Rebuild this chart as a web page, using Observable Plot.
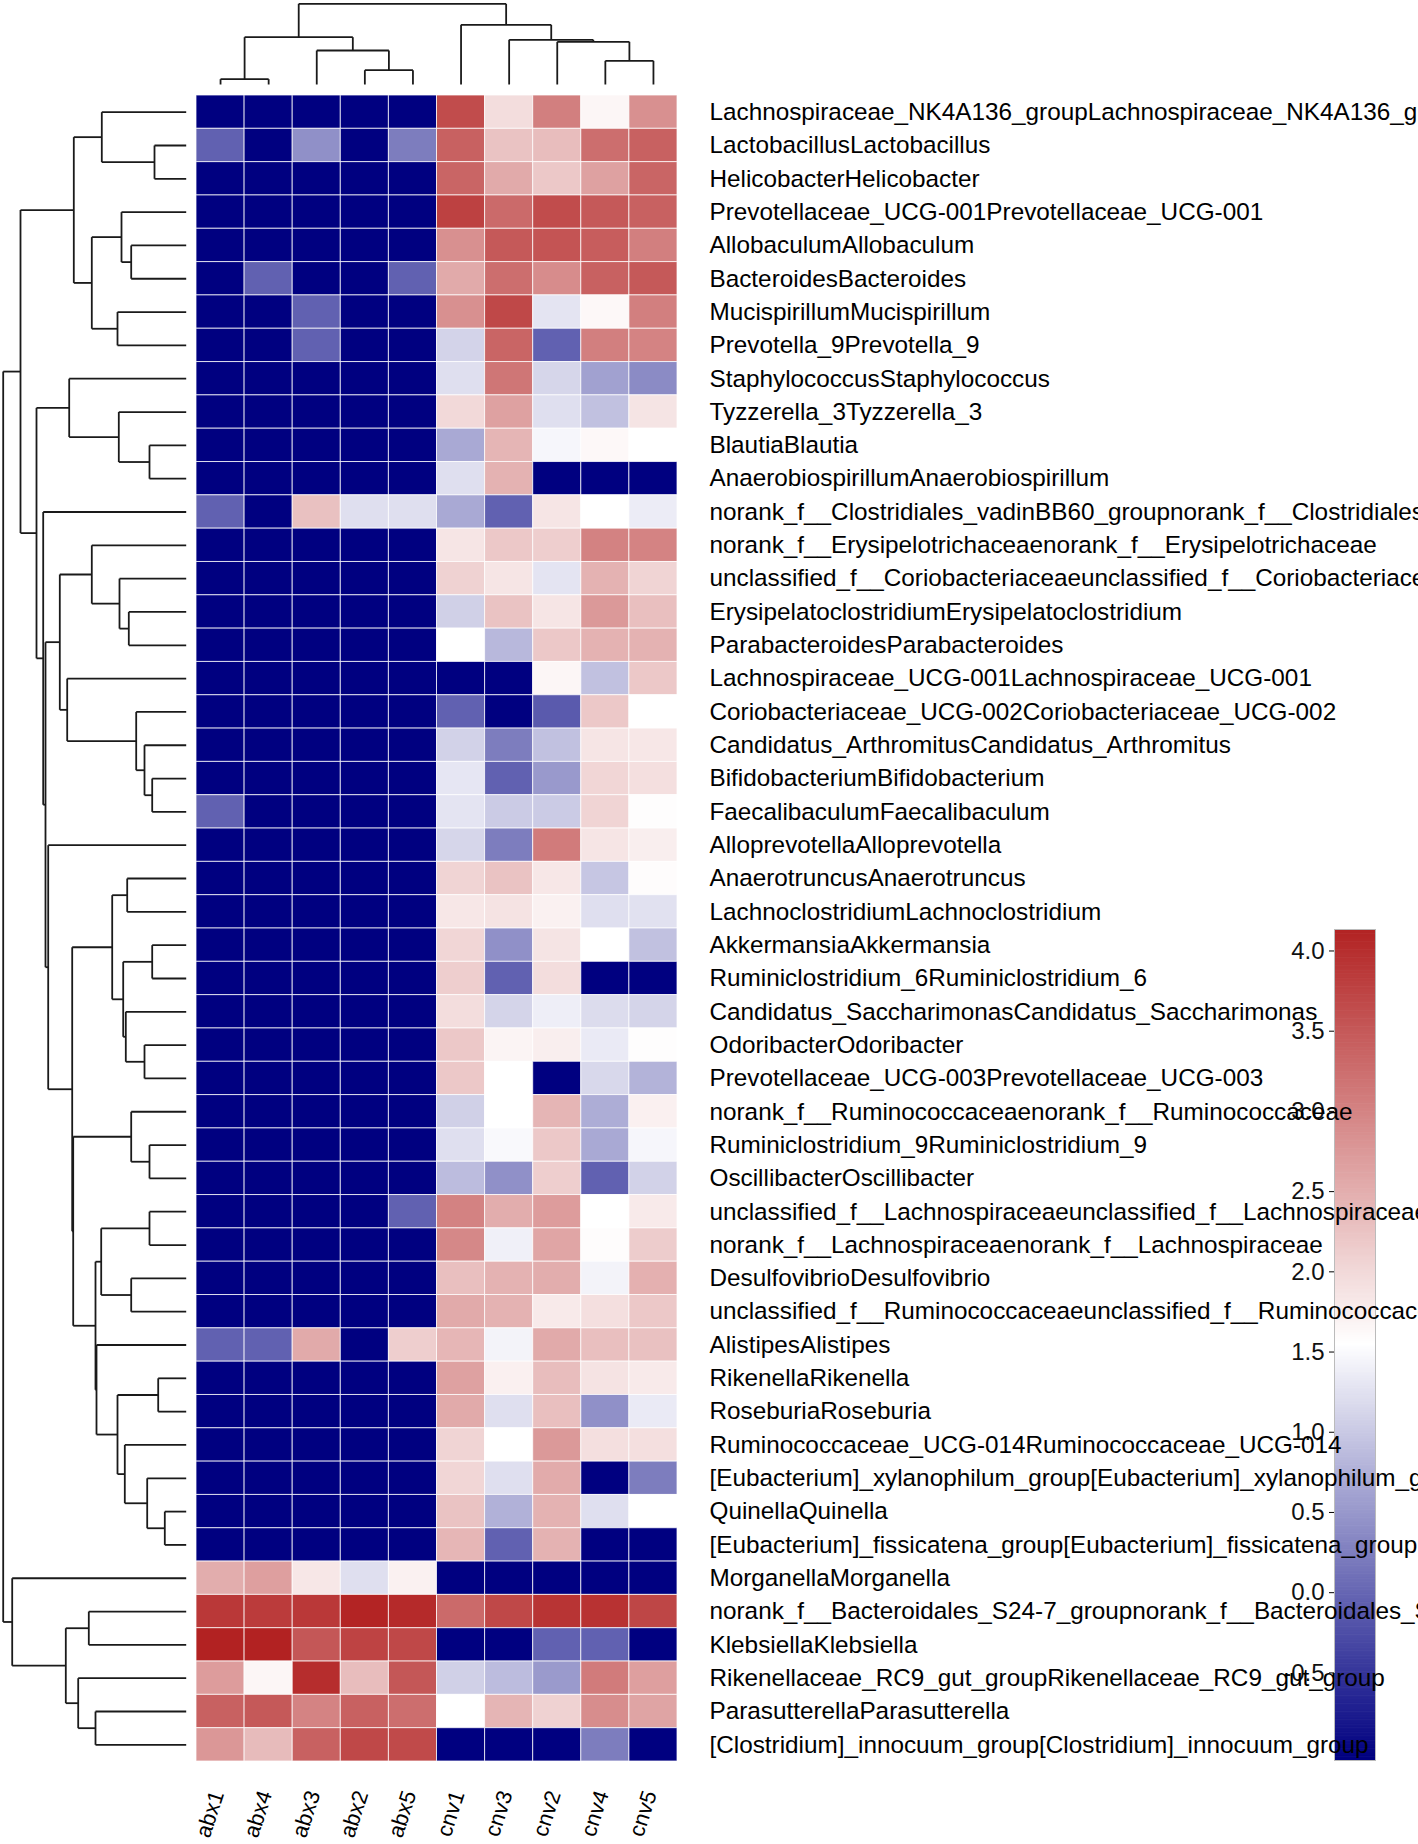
<!DOCTYPE html>
<html><head><meta charset="utf-8">
<script src="https://cdn.jsdelivr.net/npm/d3@7"></script>
<script src="https://cdn.jsdelivr.net/npm/@observablehq/plot@0.6"></script>
<style>
html,body{margin:0;padding:0;background:#fff;overflow:hidden;}
#chart{position:relative;width:1418px;height:1844px;overflow:hidden;background:#fff;}
#chart svg{position:absolute;left:0;top:0;background:transparent;}
</style></head><body><div id="chart"></div>
<script>
const samples = ["abx1","abx4","abx3","abx2","abx5","cnv1","cnv3","cnv2","cnv4","cnv5"];
const genera = ["Lachnospiraceae_NK4A136_group","Lactobacillus","Helicobacter","Prevotellaceae_UCG-001","Allobaculum","Bacteroides","Mucispirillum","Prevotella_9","Staphylococcus","Tyzzerella_3","Blautia","Anaerobiospirillum","norank_f__Clostridiales_vadinBB60_group","norank_f__Erysipelotrichaceae","unclassified_f__Coriobacteriaceae","Erysipelatoclostridium","Parabacteroides","Lachnospiraceae_UCG-001","Coriobacteriaceae_UCG-002","Candidatus_Arthromitus","Bifidobacterium","Faecalibaculum","Alloprevotella","Anaerotruncus","Lachnoclostridium","Akkermansia","Ruminiclostridium_6","Candidatus_Saccharimonas","Odoribacter","Prevotellaceae_UCG-003","norank_f__Ruminococcaceae","Ruminiclostridium_9","Oscillibacter","unclassified_f__Lachnospiraceae","norank_f__Lachnospiraceae","Desulfovibrio","unclassified_f__Ruminococcaceae","Alistipes","Rikenella","Roseburia","Ruminococcaceae_UCG-014","[Eubacterium]_xylanophilum_group","Quinella","[Eubacterium]_fissicatena_group","Morganella","norank_f__Bacteroidales_S24-7_group","Klebsiella","Rikenellaceae_RC9_gut_group","Parasutterella","[Clostridium]_innocuum_group"];
// rows follow genera; columns follow samples
const values = [
[-0.99,-0.99,-0.99,-0.99,-0.99,3.7,2.0,3.1,1.7,2.9],
[0.0,-0.99,0.47,-0.99,0.28,3.45,2.3,2.37,3.3,3.45],
[-0.99,-0.99,-0.99,-0.99,-0.99,3.4,2.6,2.25,2.7,3.4],
[-0.99,-0.99,-0.99,-0.99,-0.99,3.83,3.35,3.7,3.55,3.45],
[-0.99,-0.99,-0.99,-0.99,-0.99,2.9,3.55,3.6,3.5,3.1],
[-0.99,0.0,-0.99,-0.99,0.0,2.6,3.3,2.95,3.45,3.55],
[-0.99,-0.99,0.0,-0.99,-0.99,2.9,3.75,1.33,1.68,3.1],
[-0.99,-0.99,0.0,-0.99,-0.99,1.15,3.4,0.0,3.1,3.05],
[-0.99,-0.99,-0.99,-0.99,-0.99,1.27,3.2,1.18,0.65,0.42],
[-0.99,-0.99,-0.99,-0.99,-0.99,2.05,2.7,1.27,0.97,1.92],
[-0.99,-0.99,-0.99,-0.99,-0.99,0.73,2.47,1.51,1.68,1.6],
[-0.99,-0.99,-0.99,-0.99,-0.99,1.27,2.5,-0.99,-0.99,-0.99],
[0.0,-0.99,2.33,1.27,1.27,0.73,0.0,1.9,1.6,1.41],
[-0.99,-0.99,-0.99,-0.99,-0.99,1.9,2.25,2.17,3.07,3.05],
[-0.99,-0.99,-0.99,-0.99,-0.99,2.13,1.9,1.33,2.5,2.1],
[-0.99,-0.99,-0.99,-0.99,-0.99,1.12,2.3,1.9,2.8,2.35],
[-0.99,-0.99,-0.99,-0.99,-0.99,1.6,0.88,2.25,2.5,2.5],
[-0.99,-0.99,-0.99,-0.99,-0.99,-0.99,-0.99,1.7,0.97,2.25],
[-0.99,-0.99,-0.99,-0.99,-0.99,0.0,-0.99,-0.08,2.25,1.6],
[-0.99,-0.99,-0.99,-0.99,-0.99,1.14,0.28,0.97,1.9,1.88],
[-0.99,-0.99,-0.99,-0.99,-0.99,1.35,0.0,0.56,2.08,1.98],
[0.0,-0.99,-0.99,-0.99,-0.99,1.33,1.07,1.07,2.1,1.62],
[-0.99,-0.99,-0.99,-0.99,-0.99,1.18,0.28,3.15,1.9,1.8],
[-0.99,-0.99,-0.99,-0.99,-0.99,2.1,2.3,1.88,1.02,1.64],
[-0.99,-0.99,-0.99,-0.99,-0.99,1.88,1.93,1.76,1.27,1.3],
[-0.99,-0.99,-0.99,-0.99,-0.99,2.08,0.47,1.92,1.6,0.97],
[-0.99,-0.99,-0.99,-0.99,-0.99,2.17,0.0,2.0,-0.99,-0.99],
[-0.99,-0.99,-0.99,-0.99,-0.99,2.0,1.16,1.43,1.24,1.16],
[-0.99,-0.99,-0.99,-0.99,-0.99,2.25,1.73,1.8,1.39,1.62],
[-0.99,-0.99,-0.99,-0.99,-0.99,2.25,1.6,-0.99,1.2,0.83],
[-0.99,-0.99,-0.99,-0.99,-0.99,1.12,1.6,2.47,0.77,1.78],
[-0.99,-0.99,-0.99,-0.99,-0.99,1.27,1.54,2.25,0.73,1.51],
[-0.99,-0.99,-0.99,-0.99,-0.99,0.92,0.47,2.17,0.0,1.14],
[-0.99,-0.99,-0.99,-0.99,0.0,3.07,2.56,2.76,1.6,1.85],
[-0.99,-0.99,-0.99,-0.99,-0.99,3.0,1.45,2.65,1.64,2.2],
[-0.99,-0.99,-0.99,-0.99,-0.99,2.35,2.5,2.56,1.48,2.52],
[-0.99,-0.99,-0.99,-0.99,-0.99,2.6,2.5,1.85,1.97,2.25],
[0.0,0.0,2.6,-0.99,2.17,2.45,1.48,2.6,2.35,2.33],
[-0.99,-0.99,-0.99,-0.99,-0.99,2.7,1.78,2.37,1.93,1.85],
[-0.99,-0.99,-0.99,-0.99,-0.99,2.6,1.27,2.35,0.47,1.39],
[-0.99,-0.99,-0.99,-0.99,-0.99,2.1,1.6,2.8,1.98,1.97],
[-0.99,-0.99,-0.99,-0.99,-0.99,2.08,1.27,2.58,-0.99,0.28],
[-0.99,-0.99,-0.99,-0.99,-0.99,2.3,0.81,2.5,1.27,1.6],
[-0.99,-0.99,-0.99,-0.99,-0.99,2.45,0.0,2.5,-0.99,-0.99],
[2.56,2.72,1.88,1.27,1.76,-0.99,-0.99,-0.99,-0.99,-0.99],
[3.93,3.9,3.93,4.17,4.1,3.35,3.75,3.98,4.0,3.77],
[4.19,4.19,3.57,3.8,3.75,-0.99,-0.99,0.0,0.0,-0.99],
[2.76,1.7,4.06,2.37,3.57,1.12,0.92,0.57,3.15,2.72],
[3.45,3.55,3.05,3.45,3.3,1.6,2.47,2.13,2.94,2.67],
[2.82,2.4,3.45,3.75,3.72,-0.99,-0.99,-0.99,0.28,-0.99]
];
// row clustering: [childA, childB, height]; numbers = leaf rows, "nK" = K-th merge
const rowMerge = [
[1,2,31.7],[0,"n1",84.4],[4,5,55],[3,"n3",64.7],[6,7,68.7],["n4","n5",94.4],["n2","n6",112.4],
[10,11,36.7],[9,"n8",67.4],[8,"n9",117],
[15,16,57.4],[14,"n11",66.7],[13,"n12",94.4],[20,21,34],[19,"n14",41.7],[18,"n15",50],[17,"n16",119],["n13","n17",126.4],
[23,24,59],[25,26,34],[28,29,41.7],[27,"n21",60.4],["n20","n22",63],["n19","n23",74],
[31,32,36.7],[30,"n25",55],
[33,34,36.7],[35,36,55],["n27","n28",85],[38,39,28],[42,43,21.4],[41,"n31",39],[40,"n32",61.4],["n30","n33",68.7],[37,"n34",89.7],["n29","n35",90.7],
["n26","n36",113],["n24","n37",114],[22,"n38",138],["n18","n39",140.7],[12,"n40",143],["n10","n41",149.7],["n7","n42",165.7],
[45,46,97.4],[48,49,90.7],[47,"n45",108],["n44","n46",120.4],[44,"n47",174],["n43","n48",183]
];
// column clustering
const colMerge = [
[0,1,5.33],[3,4,14.33],[2,"n2",34],["n1","n3",47.33],
[8,9,23.67],[7,"n5",42.67],[6,"n6",44.67],[5,"n7",59.67],["n4","n8",80.67]
];
const colorTicks = [-0.5,0.0,0.5,1.0,1.5,2.0,2.5,3.0,3.5,4.0];
const valueDomain = [-0.99, 1.6, 4.19];
const palette = ["#000080","#ffffff","#b22222"];

const FONT = '"Liberation Sans", Arial, Helvetica, sans-serif';
const W = 1418, H = 1844;

function dendroSegments(merges) {
  const nodes = {};
  const get = ref => typeof ref === "number" ? {p: ref, h: 0} : nodes[ref];
  const segs = [];
  merges.forEach(([a, b, h], k) => {
    const A = get(a), B = get(b);
    segs.push({h1: h, p1: A.p, h2: h, p2: B.p});
    segs.push({h1: h, p1: A.p, h2: A.h, p2: A.p});
    segs.push({h1: h, p1: B.p, h2: B.h, p2: B.p});
    nodes["n" + (k + 1)] = {p: (A.p + B.p) / 2, h};
  });
  return segs;
}

const colorScale = {type: "linear", domain: valueDomain, range: palette, clamp: true, interpolate: "rgb"};
const chart = document.getElementById("chart");

// colour key (drawn first so row labels lie on top of it)
const strips = d3.range(valueDomain[0], valueDomain[2], 0.01).map(v => ({v, y1: v, y2: Math.min(v + 0.014, valueDomain[2])}));
chart.appendChild(Plot.plot({
  width: W, height: H,
  marginLeft: 1334, marginRight: 43, marginTop: 929, marginBottom: 84,
  style: {background: "transparent", fontFamily: FONT},
  x: {domain: [0, 1], axis: null},
  y: {domain: [valueDomain[0], valueDomain[2]]},
  color: colorScale,
  marks: [
    Plot.rect(strips, {x1: 0, x2: 1, y1: "y1", y2: "y2", fill: "v"}),
    Plot.frame({stroke: "#bbb", strokeWidth: 1}),
    Plot.axisY({anchor: "left", ticks: colorTicks, tickSize: 5, tickPadding: 5, fontSize: 24, dy: -9,
      tickFormat: d => d.toFixed(1), label: null, fill: "#111"})
  ]
}));

// heatmap
const cells = [];
genera.forEach((g, i) => samples.forEach((s, j) => cells.push({row: i, col: s, value: values[i][j]})));
chart.appendChild(Plot.plot({
  width: W, height: H,
  marginLeft: 196, marginRight: W - 677, marginTop: 95, marginBottom: H - 1761,
  style: {background: "transparent", fontFamily: FONT},
  x: {type: "band", domain: samples, padding: 0, round: false},
  y: {type: "band", domain: d3.range(genera.length), padding: 0, round: false},
  color: colorScale,
  marks: [
    Plot.cell(cells, {x: "col", y: "row", fill: "value", stroke: "white", strokeOpacity: 0.75, strokeWidth: 1, inset: 0}),
    Plot.axisY({anchor: "right", tickSize: 0, tickPadding: 32, fontSize: 24.3, textAnchor: "start",
      tickFormat: i => genera[i] + genera[i], label: null, fill: "#000"}),
    Plot.axisX({anchor: "bottom", tickSize: 0, tickPadding: 30, dx: -3, fontSize: 22, tickRotate: -72, label: null, fill: "#000"})
  ]
}));

// row dendrogram
chart.appendChild(Plot.plot({
  width: W, height: H,
  style: {background: "transparent"},
  x: {domain: [183, 0], range: [2.7, 185.7], axis: null},
  y: {domain: [-0.5, genera.length - 0.5], range: [95, 1761], axis: null},
  marks: [
    Plot.link(dendroSegments(rowMerge), {x1: "h1", y1: "p1", x2: "h2", y2: "p2", stroke: "#1a1a1a", strokeWidth: 1.8})
  ]
}));

// column dendrogram
chart.appendChild(Plot.plot({
  width: W, height: H,
  style: {background: "transparent"},
  x: {domain: [-0.5, samples.length - 0.5], range: [196, 677], axis: null},
  y: {domain: [0, 80.67], range: [84, 3.33], axis: null},
  marks: [
    Plot.link(dendroSegments(colMerge), {x1: "p1", y1: "h1", x2: "p2", y2: "h2", stroke: "#1a1a1a", strokeWidth: 1.8})
  ]
}));
</script></body></html>
